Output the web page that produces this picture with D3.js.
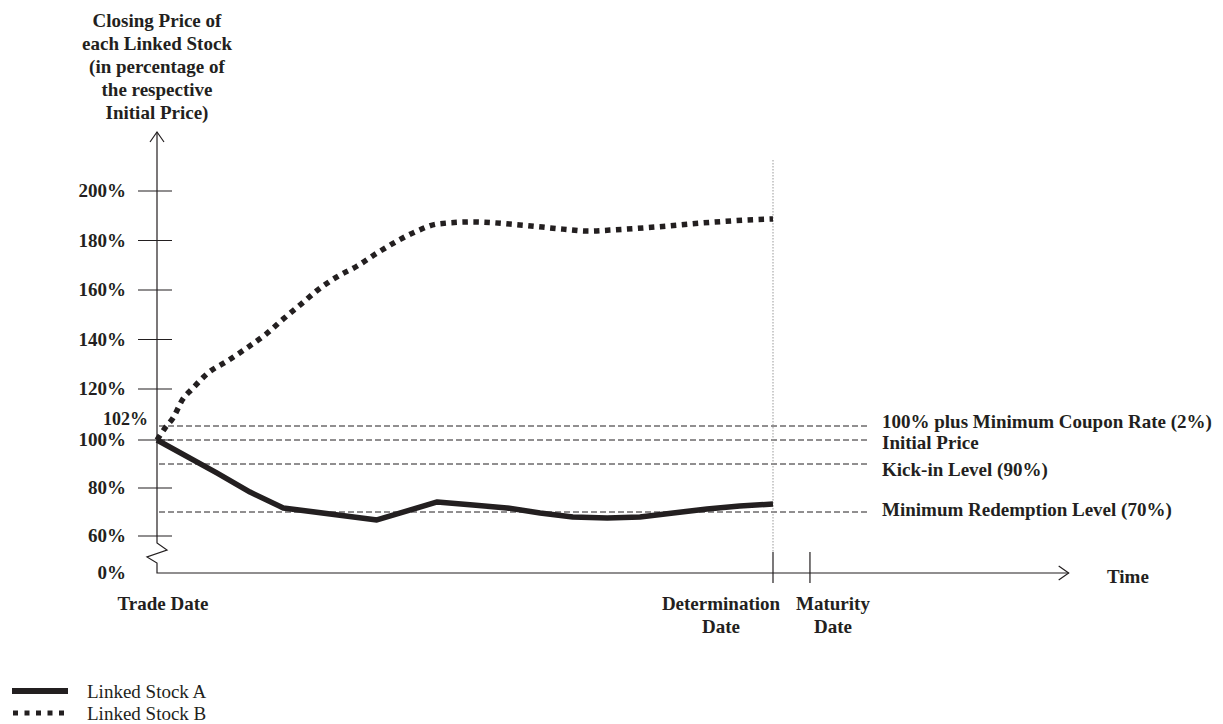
<!DOCTYPE html>
<html>
<head>
<meta charset="utf-8">
<script src="https://cdn.jsdelivr.net/npm/d3@7"></script>
<style>
  html, body { margin: 0; padding: 0; background: #fff; }
  svg { display: block; }
  text { font-family: "Liberation Serif", "Times New Roman", serif; fill: #231f20; }
</style>
</head>
<body>
<svg id="chart" width="1223" height="724"></svg>
<script>
// ---------------- data ----------------
const titleLines = ["Closing Price of", "each Linked Stock", "(in percentage of", "the respective", "Initial Price)"];
const yTickValues = [200, 180, 160, 140, 120, 100, 80, 60];
const yTickLabels = ["200%", "180%", "160%", "140%", "120%", "100%", "80%", "60%"];
const zeroLabel = "0%";
const couponLabel = "102%";

const levelValues = [102, 100, 90, 70];
const levelLabels = ["100% plus Minimum Coupon Rate (2%)", "Initial Price", "Kick-in Level (90%)", "Minimum Redemption Level  (70%)"];

// time in % of the period from Trade Date (0) to Determination Date (100)
const dateTimes = [0, 100, 106];
const dateLabels = [["Trade Date"], ["Determination", "Date"], ["Maturity", "Date"]];
const timeAxisEnd = 148;

const stockATime  = [0, 9.7, 15.1, 20.5, 35.7, 45.5, 51.3, 56.8, 62.2, 67.5, 73.1, 78.4, 83.8, 89.3, 94.6, 100];
const stockAValue = [100, 86.3, 78.3, 71.7, 66.7, 74.2, 72.9, 71.7, 69.6, 67.9, 67.5, 67.9, 69.6, 71.25, 72.5, 73.3];

const stockBTime  = [0, 1.3, 2.6, 4.2, 5.7, 8.3, 11.4, 14.6, 17.7, 20.5, 23.4, 26.1, 29.2, 32.5, 35.7, 39.0, 42.2, 45.6, 51.3, 58.9, 65.9, 70.0, 73.5, 81.2, 88.6, 95.9, 100];
const stockBValue = [100, 101.7, 105.9, 115.1, 120, 126.5, 131.3, 136.6, 142.2, 148.3, 154.3, 160, 165.3, 169.7, 174.9, 179.8, 183.8, 186.7, 187.5, 186.3, 184.6, 183.8, 184.2, 185.5, 187.1, 188.3, 188.7];

const legendLabels = ["Linked Stock A", "Linked Stock B"];

// ---------------- layout ----------------
const ink = "#231f20";
const svg = d3.select("#chart");

// schematic (broken) percentage axis
const y = d3.scaleLinear()
  .domain([0, 60, 100, 102, 120, 200])
  .range([573, 536, 440, 426, 389, 191]);
const x = d3.scaleLinear().domain([0, 100]).range([157, 773]);

const x0 = x(0), yBase = y(0);

// title
svg.append("g").selectAll("text").data(titleLines).join("text")
  .attr("x", x0).attr("y", (d, i) => 27 + i * 23)
  .attr("text-anchor", "middle").attr("font-weight", "bold").attr("font-size", 19)
  .text(d => d);

// level dashed lines
const levels = svg.append("g");
levels.selectAll("line").data(levelValues).join("line")
  .attr("x1", x0 + 2).attr("x2", 868)
  .attr("y1", d => y(d)).attr("y2", d => y(d))
  .attr("stroke", ink).attr("stroke-width", 1).attr("stroke-dasharray", "6,3");
levels.selectAll("text").data(levelValues).join("text")
  .attr("x", 882).attr("y", (d, i) => y(d) + [2, 9, 12, 4][i])
  .attr("font-weight", "bold").attr("font-size", 19)
  .text((d, i) => levelLabels[i]);

// determination dotted vertical
svg.append("line")
  .attr("x1", x(100)).attr("x2", x(100)).attr("y1", 160).attr("y2", 552)
  .attr("stroke", "#999").attr("stroke-width", 1).attr("stroke-dasharray", "1.5,1.5");

// y axis with break
const axisPath = d3.path();
axisPath.moveTo(x0, 132);
axisPath.lineTo(x0, 543);
axisPath.lineTo(x0 + 10, 550);
axisPath.lineTo(x0 - 10, 557);
axisPath.lineTo(x0, 563);
axisPath.lineTo(x0, yBase);
axisPath.lineTo(x(timeAxisEnd), yBase);
svg.append("path").attr("d", axisPath.toString())
  .attr("fill", "none").attr("stroke", ink).attr("stroke-width", 1.2);
// arrow heads
svg.append("path").attr("d", `M${x0 - 7},142 L${x0},132 L${x0 + 7},142`)
  .attr("fill", "none").attr("stroke", ink).attr("stroke-width", 1.2);
svg.append("path").attr("d", `M${x(timeAxisEnd) - 10},566 L${x(timeAxisEnd)},${yBase} L${x(timeAxisEnd) - 10},580`)
  .attr("fill", "none").attr("stroke", ink).attr("stroke-width", 1.2);

// y ticks
const yt = svg.append("g");
yt.selectAll("line").data(yTickValues).join("line")
  .attr("x1", x0 - 19).attr("x2", x0 + 15)
  .attr("y1", d => y(d)).attr("y2", d => y(d))
  .attr("stroke", ink).attr("stroke-width", 1.2);
yt.selectAll("text").data(yTickValues).join("text")
  .attr("x", 126).attr("y", d => y(d) + 6)
  .attr("text-anchor", "end").attr("font-weight", "bold").attr("font-size", 19)
  .text((d, i) => yTickLabels[i]);
svg.append("text").attr("x", 126).attr("y", y(0) + 6)
  .attr("text-anchor", "end").attr("font-weight", "bold").attr("font-size", 19).text(zeroLabel);
svg.append("text").attr("x", 148).attr("y", y(102) - 1)
  .attr("text-anchor", "end").attr("font-weight", "bold").attr("font-size", 18).text(couponLabel);

// x ticks (determination, maturity)
svg.append("g").selectAll("line").data(dateTimes.slice(1)).join("line")
  .attr("x1", d => x(d)).attr("x2", d => x(d))
  .attr("y1", yBase - 21).attr("y2", yBase + 10)
  .attr("stroke", ink).attr("stroke-width", 1.2);

// date labels
const dl = svg.append("g");
const dateCenters = [x(0) + 6, x(100) - 52, x(106) + 23];
dateLabels.forEach((lines, i) => {
  lines.forEach((t, j) => {
    dl.append("text").attr("x", dateCenters[i]).attr("y", 610 + j * 23)
      .attr("text-anchor", "middle").attr("font-weight", "bold").attr("font-size", 19).text(t);
  });
});
svg.append("text").attr("x", 1107).attr("y", 583)
  .attr("font-weight", "bold").attr("font-size", 19).text("Time");

// series
const line = d3.line().x(d => x(d[0])).y(d => y(d[1]));
const dataA = stockATime.map((t, i) => [t, stockAValue[i]]);
const dataB = stockBTime.map((t, i) => [t, stockBValue[i]]);

svg.append("path").attr("d", line.curve(d3.curveMonotoneX)(dataB))
  .attr("fill", "none").attr("stroke", ink).attr("stroke-width", 5.5)
  .attr("stroke-dasharray", "5.5,5.5").attr("stroke-linecap", "butt");
svg.append("path").attr("d", line.curve(d3.curveLinear)(dataA))
  .attr("fill", "none").attr("stroke", ink).attr("stroke-width", 5.5)
  .attr("stroke-linejoin", "round").attr("stroke-linecap", "butt");

// legend
const lg = svg.append("g");
lg.append("line").attr("x1", 12).attr("x2", 68).attr("y1", 691).attr("y2", 691)
  .attr("stroke", ink).attr("stroke-width", 6);
lg.append("line").attr("x1", 13).attr("x2", 69).attr("y1", 713).attr("y2", 713)
  .attr("stroke", ink).attr("stroke-width", 5).attr("stroke-dasharray", "5,6.5");
lg.selectAll("text").data(legendLabels).join("text")
  .attr("x", 87).attr("y", (d, i) => 698 + i * 22)
  .attr("font-size", 19).text(d => d);
</script>
</body>
</html>
